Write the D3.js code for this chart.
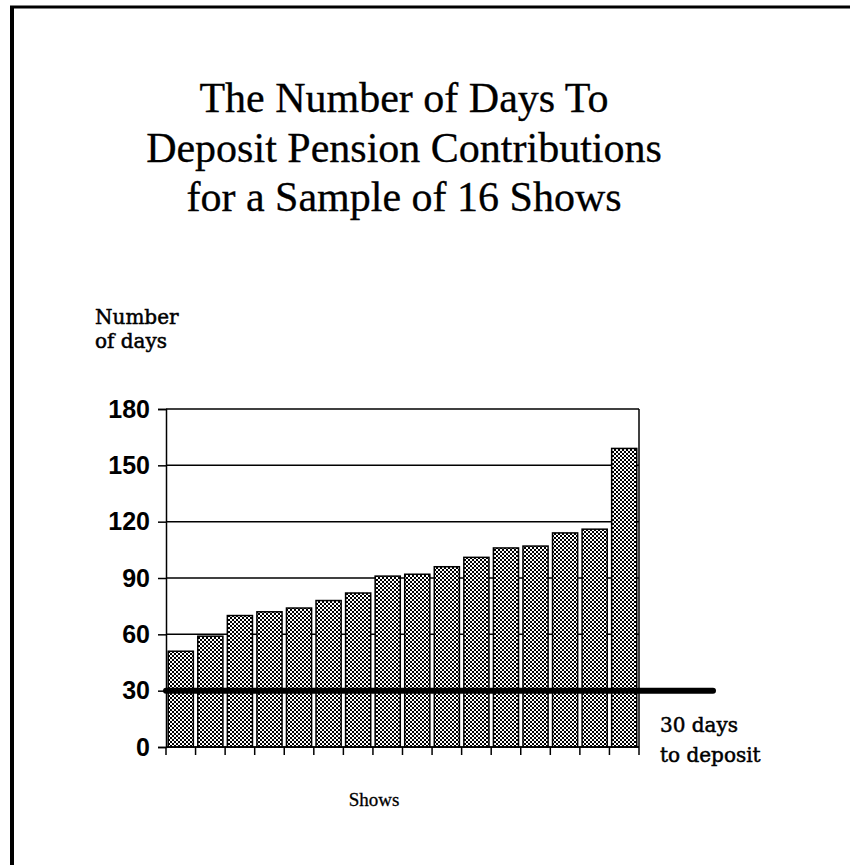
<!DOCTYPE html>
<html>
<head>
	<meta charset="utf-8">
	<title>Days To Deposit Pension Contributions</title>
	<script src="https://d3js.org/d3.v7.min.js"></script>
	<style>
		body { margin: 0; background: #fff; }
		.title { font-family: "Liberation Serif", "Times New Roman", serif; font-size: 42px; fill: #000; stroke: #000; stroke-width: 0.3px; }
		.label { font-family: "DejaVu Serif", serif; font-size: 20px; fill: #000; stroke: #000; stroke-width: 0.5px; }
		.ytick text { font-family: "Liberation Sans", Arial, sans-serif; font-weight: bold; font-size: 25px; }
	</style>
</head>
<body>
<div id="viz"></div>
<script>
// data
var titleLines = ["The Number of Days To", "Deposit Pension Contributions", "for a Sample of 16 Shows"];
var shows = d3.range(1, 17);
var days = [51, 59, 70, 72, 74, 78, 82, 91, 92, 96, 101, 106, 107, 114, 116, 159];
var yTicks = [0, 30, 60, 90, 120, 150, 180];
var deadline = 30;

var W = 850, H = 865;
var margin = {top: 409, right: 211, bottom: 118, left: 166};
var width = W - margin.left - margin.right;
var height = H - margin.top - margin.bottom;

var svg = d3.select("#viz").append("svg")
	.attr("width", W)
	.attr("height", H);

// checkered fill like the old dot screen
var pat = svg.append("defs").append("pattern")
	.attr("id", "dots")
	.attr("width", 4).attr("height", 4)
	.attr("patternUnits", "userSpaceOnUse");
pat.append("rect").attr("width", 4).attr("height", 4).attr("fill", "#fff");
pat.append("rect").attr("width", 2).attr("height", 2).attr("fill", "#000");
pat.append("rect").attr("x", 2).attr("y", 2).attr("width", 2).attr("height", 2).attr("fill", "#000");

// page frame (top and left edges)
svg.append("line").attr("x1", 10).attr("x2", W).attr("y1", 7).attr("y2", 7)
	.attr("stroke", "#000").attr("stroke-width", 3);
svg.append("line").attr("x1", 12).attr("x2", 12).attr("y1", 6).attr("y2", H)
	.attr("stroke", "#000").attr("stroke-width", 4);

// title
svg.append("text").attr("class", "title")
	.attr("text-anchor", "middle")
	.selectAll("tspan").data(titleLines).enter().append("tspan")
	.attr("x", 404)
	.attr("y", function(d, i) { return 112 + i * 49.5; })
	.text(function(d) { return d; });

// y axis title
svg.append("text").attr("class", "label")
	.selectAll("tspan").data(["Number", "of days"]).enter().append("tspan")
	.attr("x", 95)
	.attr("y", function(d, i) { return 324 + i * 24; })
	.text(function(d) { return d; });

var g = svg.append("g")
	.attr("transform", "translate(" + margin.left + "," + margin.top + ")");

var x = d3.scaleBand().domain(shows).range([0, width]).paddingInner(0.15).paddingOuter(0.075);
var y = d3.scaleLinear().domain([0, 180]).range([height, 0]);

// grid lines
g.selectAll(".grid").data(yTicks).enter().append("line")
	.attr("x1", 0).attr("x2", width)
	.attr("y1", function(d) { return y(d); })
	.attr("y2", function(d) { return y(d); })
	.attr("stroke", "#000").attr("stroke-width", 1.5);

// right edge of the plot box
g.append("line").attr("x1", width).attr("x2", width).attr("y1", 0).attr("y2", height)
	.attr("stroke", "#000").attr("stroke-width", 1.5);

// bars
g.selectAll(".bar").data(days).enter().append("rect")
	.attr("x", function(d, i) { return x(shows[i]); })
	.attr("y", function(d) { return y(d); })
	.attr("width", x.bandwidth())
	.attr("height", function(d) { return height - y(d); })
	.attr("fill", "url(#dots)")
	.attr("stroke", "#000").attr("stroke-width", 1.5);

// y axis
var yAxis = g.append("g").attr("class", "ytick")
	.call(d3.axisLeft(y).tickValues(yTicks).tickSize(8).tickPadding(8));
yAxis.select(".domain").attr("stroke-width", 1.5);
yAxis.selectAll(".tick line").attr("stroke-width", 1.5);

// x axis: ticks at the band boundaries only
var bounds = d3.range(0, shows.length + 1).map(function(i) { return i * x.step(); });
g.append("line").attr("x1", 0).attr("x2", width).attr("y1", height).attr("y2", height)
	.attr("stroke", "#000").attr("stroke-width", 1.5);
g.selectAll(".xtick").data(bounds).enter().append("line")
	.attr("x1", function(d) { return d; }).attr("x2", function(d) { return d; })
	.attr("y1", height).attr("y2", height + 8)
	.attr("stroke", "#000").attr("stroke-width", 1.5);

// 30 day deadline
g.append("line")
	.attr("x1", 0).attr("x2", width + 74)
	.attr("y1", y(deadline)).attr("y2", y(deadline))
	.attr("stroke", "#000").attr("stroke-width", 6)
	.attr("stroke-linecap", "round");

svg.append("text").attr("class", "label")
	.selectAll("tspan").data(["30 days", "to deposit"]).enter().append("tspan")
	.attr("x", 660)
	.attr("y", function(d, i) { return 732 + i * 30; })
	.text(function(d) { return d; });

// x axis title
svg.append("text")
	.attr("x", 374).attr("y", 806)
	.attr("text-anchor", "middle")
	.style("font-family", "'Liberation Serif', serif")
	.style("font-size", "19px")
	.style("stroke", "#000").style("stroke-width", "0.3px")
	.text("Shows");
</script>
</body>
</html>
